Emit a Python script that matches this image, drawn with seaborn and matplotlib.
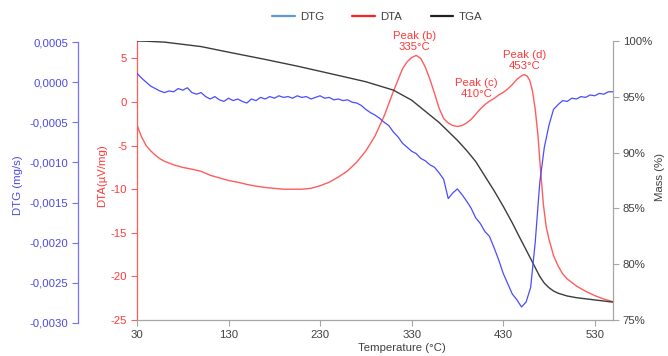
import numpy as np
import pandas as pd
import matplotlib
matplotlib.use("Agg")
import matplotlib.pyplot as plt
from matplotlib.lines import Line2D
from matplotlib.ticker import FuncFormatter
import seaborn as sns

# ---------------------------------------------------------------- data
# DTG signal (x 1e-4 mg/s), sampled every 5 °C from 30 to 550 °C
dtg_temp = list(range(30, 555, 5))
dtg_e4 = [
    1.1, 0.5, 0.0, -0.5, -0.8, -1.1, -1.3, -1.1, -1.2, -0.8,
    -1.0, -0.7, -1.3, -1.5, -1.3, -1.8, -2.1, -1.8, -2.2, -2.4,
    -2.0, -2.3, -2.1, -2.4, -2.6, -2.1, -2.3, -1.9, -2.1, -1.8,
    -2.0, -1.7, -1.9, -1.8, -2.0, -1.7, -1.9, -1.8, -2.1, -1.9,
    -1.7, -2.0, -1.9, -2.2, -2.1, -2.3, -2.2, -2.5, -2.6, -2.9,
    -3.4, -3.8, -4.1, -4.5, -5.0, -5.4, -6.2, -6.8, -7.6, -8.1,
    -8.6, -8.9, -9.5, -9.8, -10.3, -10.6, -11.3, -12.1, -14.5, -13.8,
    -13.3, -14.0, -14.8, -15.7, -16.9, -17.6, -18.6, -19.2, -20.6, -22.1,
    -23.8, -25.1, -26.4, -27.1, -28.0, -27.4, -25.6, -20.0, -12.5, -8.1,
    -5.4, -3.4, -2.8, -2.3, -2.4, -2.0, -2.1, -1.8, -1.9, -1.6,
    -1.7, -1.4, -1.5, -1.2, -1.2,
]

# DTA signal (µV/mg)
dta_temp = [30, 32, 35, 40, 45, 50, 55, 60, 70, 80, 90, 100, 110, 120, 130,
            140, 150, 160, 170, 180, 190, 200, 210, 220, 230, 240, 250, 260,
            270, 280, 290, 300, 310, 320, 325, 330, 335, 340, 345, 350, 355,
            360, 365, 370, 375, 380, 385, 390, 395, 400, 405, 410, 415, 420,
            425, 430, 435, 440, 445, 450, 453, 456, 459, 462, 465, 468, 471,
            474, 477, 480, 485, 490, 495, 500, 510, 520, 530, 540, 550]
dta_value = [-2.6, -3.2, -4.0, -5.0, -5.6, -6.1, -6.5, -6.8, -7.2, -7.5, -7.7,
             -7.95, -8.4, -8.7, -9.0, -9.2, -9.45, -9.65, -9.8, -9.9, -10.0,
             -10.0, -10.0, -9.9, -9.6, -9.2, -8.6, -7.9, -6.9, -5.6, -3.9,
             -1.6, 1.2, 3.8, 4.6, 5.1, 5.35, 5.0, 4.0, 2.6, 1.0, -0.7, -1.9,
             -2.4, -2.7, -2.8, -2.7, -2.4, -2.0, -1.4, -0.8, -0.3, 0.1, 0.4,
             0.8, 1.1, 1.5, 2.0, 2.6, 3.0, 3.15, 3.0, 2.5, 1.3, -0.8, -3.8,
             -8.0, -11.8, -14.3, -15.7, -17.6, -18.8, -19.7, -20.3, -21.1,
             -21.7, -22.2, -22.6, -22.9]

# TGA mass (%)
tga_temp = [30, 40, 60, 80, 100, 130, 170, 205, 240, 280, 310, 330, 345, 360,
            370, 380, 390, 400, 410, 420, 430, 440, 448, 455, 460, 465, 470,
            475, 480, 485, 490, 500, 510, 520, 535, 550]
tga_mass = [100.0, 99.98, 99.9, 99.7, 99.5, 99.0, 98.35, 97.75, 97.1, 96.35,
            95.6, 94.7, 93.7, 92.7, 91.9, 91.1, 90.2, 89.2, 87.9, 86.6, 85.2,
            83.7, 82.4, 81.3, 80.5, 79.7, 78.9, 78.3, 77.9, 77.6, 77.4, 77.15,
            77.0, 76.9, 76.75, 76.6]

peak_names = ["Peak (b)", "Peak (c)", "Peak (d)"]
peak_temps = [335, 410, 453]

x_ticks = [30, 130, 230, 330, 430, 530]
dta_ticks = [-25, -20, -15, -10, -5, 0, 5]
dtg_ticks = [-0.0030, -0.0025, -0.0020, -0.0015, -0.0010, -0.0005, 0.0, 0.0005]
mass_ticks = [75, 80, 85, 90, 95, 100]

dtg_df = pd.DataFrame({"T": dtg_temp, "DTG": np.array(dtg_e4) * 1e-4})
dta_df = pd.DataFrame({"T": dta_temp, "DTA": dta_value})
tga_df = pd.DataFrame({"T": tga_temp, "Mass": tga_mass})

# ---------------------------------------------------------------- style
sns.set_theme(style="white")
plt.rcParams["font.family"] = ["Liberation Sans", "DejaVu Sans"]
FS = 8.2

RED_LINE = "#ff5c5c"
RED_TEXT = "#ff3a3a"
BLUE_LINE = "#4b4bff"
BLUE_TEXT = "#4a4ae6"
BLACK_LINE = "#3c3c3c"
GREY_TEXT = "#404040"
GREY_AXIS = "#a6a6a6"

W, H = 668, 356
fig = plt.figure(figsize=(W / 100, H / 100), dpi=100)
fig.patch.set_facecolor("white")


def frame(x0, y0, x1, y1):
    return [x0 / W, 1 - y1 / H, (x1 - x0) / W, (y1 - y0) / H]


ax = fig.add_axes(frame(137, 41, 613, 320))
ax_mass = ax.twinx()
ax_dtg = fig.add_axes(frame(137, 42, 613, 323))
ax_dtg.patch.set_visible(False)

# ---------------------------------------------------------------- curves
sns.lineplot(data=tga_df, x="T", y="Mass", ax=ax_mass, color=BLACK_LINE,
             lw=1.0, legend=False)
sns.lineplot(data=dtg_df, x="T", y="DTG", ax=ax_dtg, color=BLUE_LINE,
             lw=0.9, legend=False)
sns.lineplot(data=dta_df, x="T", y="DTA", ax=ax, color=RED_LINE,
             lw=1.0, legend=False)

# ---------------------------------------------------------------- axes
for a in (ax, ax_mass, ax_dtg):
    a.set_xlim(30, 550)
    a.grid(False)

ax.set_ylim(-25, 7)
ax.set_xticks(x_ticks)
ax.set_yticks(dta_ticks)
ax.yaxis.set_major_formatter(FuncFormatter(lambda v, _: f"{int(round(v))}"))
ax.tick_params(axis="x", bottom=True, direction="out", length=4, width=0.8,
               color=GREY_AXIS, labelcolor=GREY_TEXT, labelsize=FS, pad=3)
ax.tick_params(axis="y", left=True, direction="out", length=4, width=0.8,
               color=RED_LINE, labelcolor=RED_TEXT, labelsize=FS, pad=3)
for s in ("top", "right"):
    ax.spines[s].set_visible(False)
ax.spines["left"].set_color(RED_LINE)
ax.spines["left"].set_linewidth(0.9)
ax.spines["bottom"].set_color(GREY_AXIS)
ax.spines["bottom"].set_linewidth(0.9)
ax.set_xlabel("Temperature (°C)", fontsize=FS, color=GREY_TEXT)
ax.xaxis.set_label_coords(0.557, -0.082)
ax.set_ylabel("DTA(µV/mg)", fontsize=FS, color=RED_TEXT)
ax.yaxis.set_label_coords(-0.063, 0.518)

ax_mass.set_ylim(75, 100)
ax_mass.set_yticks(mass_ticks)
ax_mass.yaxis.set_major_formatter(FuncFormatter(lambda v, _: f"{v:.0f}%"))
ax_mass.tick_params(axis="y", right=True, direction="out", length=4, width=0.8,
                    color=GREY_AXIS, labelcolor=GREY_TEXT, labelsize=FS, pad=3)
for s in ("top", "left", "bottom"):
    ax_mass.spines[s].set_visible(False)
ax_mass.spines["right"].set_color(GREY_AXIS)
ax_mass.spines["right"].set_linewidth(0.9)
ax_mass.set_ylabel("Mass (%)", fontsize=FS, color=GREY_TEXT)
ax_mass.yaxis.set_label_coords(1.088, 0.513)


def dtg_fmt(v, _):
    if abs(v) < 1e-9:
        v = 0.0
    return f"{v:.4f}".replace(".", ",")


ax_dtg.set_ylim(-0.0030, 0.0005)
ax_dtg.set_yticks(dtg_ticks)
ax_dtg.yaxis.set_major_formatter(FuncFormatter(dtg_fmt))
ax_dtg.xaxis.set_visible(False)
for s in ("top", "right", "bottom"):
    ax_dtg.spines[s].set_visible(False)
ax_dtg.spines["left"].set_position(("axes", (78 - 137) / 476))
ax_dtg.spines["left"].set_color("#7272ff")
ax_dtg.spines["left"].set_linewidth(0.9)
ax_dtg.tick_params(axis="y", left=True, direction="out", length=4, width=0.8,
                   color="#7272ff", labelcolor=BLUE_TEXT, labelsize=FS, pad=3)
ax_dtg.set_ylabel("DTG (mg/s)", fontsize=FS, color=BLUE_TEXT)
ax_dtg.yaxis.set_label_coords(-0.2395, 0.491)

# ---------------------------------------------------------------- peak labels
label_pos = [(333.5, 6.96), (401, 1.54), (453, 4.8)]
for name, temp, (tx, ty) in zip(peak_names, peak_temps, label_pos):
    ax.text(tx, ty, f"{name}\n{temp}°C", ha="center", va="center",
            color=RED_TEXT, fontsize=FS, linespacing=1.1, clip_on=False,
            zorder=5)

# ---------------------------------------------------------------- legend
handles = [Line2D([], [], color="#5b9bd5", lw=1.6),
           Line2D([], [], color="#ff2020", lw=1.6),
           Line2D([], [], color="#202020", lw=1.6)]
leg = fig.legend(handles, ["DTG", "DTA", "TGA"], ncol=3, loc="center",
                 bbox_to_anchor=(377 / W, 1 - 17 / H), frameon=False,
                 fontsize=FS, handlelength=2.0, handletextpad=0.45,
                 columnspacing=2.5)
for t in leg.get_texts():
    t.set_color(GREY_TEXT)

fig.savefig("out.png", dpi=100, facecolor="white")
